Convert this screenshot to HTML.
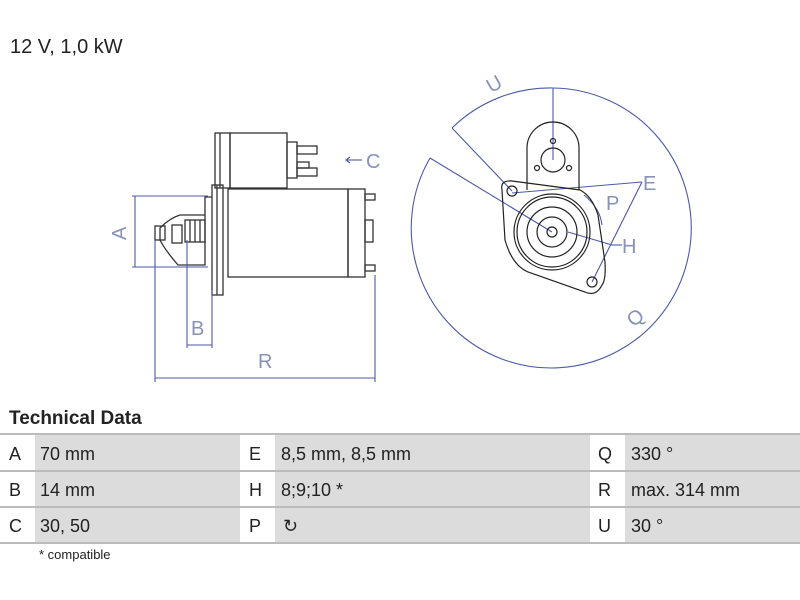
<!DOCTYPE html>
<html><head><meta charset="utf-8"><style>
body{margin:0;background:#fff;width:800px;height:600px;overflow:hidden;font-family:"Liberation Sans",sans-serif;}
.t{position:absolute;color:#222;}
</style></head><body>
<div class="t" style="left:10px;top:36px;font-size:20px;">12 V, 1,0 kW</div>
<svg width="800" height="400" style="position:absolute;left:0;top:0" xmlns="http://www.w3.org/2000/svg">
<g fill="none" stroke="#333" stroke-width="1.3">
<rect x="215" y="133" width="15" height="55"/>
<rect x="230" y="133" width="57" height="55"/>
<line x1="220" y1="133" x2="220" y2="188"/>
<rect x="287" y="142" width="10" height="36"/>
<rect x="297" y="146" width="20" height="8"/>
<rect x="297" y="162" width="12" height="6"/>
<rect x="297" y="168" width="20" height="8"/>
<rect x="228" y="189" width="120" height="88"/>
<rect x="348" y="189" width="17" height="88"/>
<rect x="365" y="194" width="10" height="6"/>
<rect x="365" y="220" width="8" height="22"/>
<rect x="365" y="265" width="10" height="6"/>
<rect x="212" y="185" width="11" height="110"/>
<line x1="217" y1="185" x2="217" y2="295"/>
<path d="M212 197 L205 197 L205 265 L178 265 Q165 250 160 240 L160 228 Q170 218 180 215 L205 215"/>
<rect x="155" y="226" width="10" height="14"/>
<rect x="172" y="225" width="10" height="18"/>
<rect x="185" y="220" width="20" height="22"/>
<line x1="190" y1="220" x2="190" y2="242"/><line x1="195" y1="220" x2="195" y2="242"/><line x1="200" y1="220" x2="200" y2="242"/>
</g>
<g fill="none" stroke="#4a5aa8" stroke-width="1.1">
<line x1="135" y1="196" x2="135" y2="267"/>
<line x1="132" y1="196" x2="208" y2="196"/>
<line x1="132" y1="267" x2="208" y2="267"/>
<line x1="187" y1="240" x2="187" y2="348"/>
<line x1="212" y1="290" x2="212" y2="348"/>
<line x1="187" y1="345" x2="212" y2="345"/>
<line x1="155" y1="240" x2="155" y2="382"/>
<line x1="375" y1="275" x2="375" y2="382"/>
<line x1="155" y1="378" x2="375" y2="378"/>
<line x1="347" y1="160" x2="362" y2="160"/>
<path d="M350 157 L346 160 L350 163"/>
<path d="M430 158 A140 140 0 1 0 553 88"/>
<path d="M452 128 A140 140 0 0 1 553 88"/>
<line x1="553" y1="88" x2="553" y2="160"/>
<line x1="452" y1="128" x2="512" y2="191"/>
<line x1="430" y1="158" x2="552" y2="232"/>
<line x1="512" y1="193" x2="642" y2="182"/>
<line x1="642" y1="182" x2="592" y2="282"/>
<line x1="568" y1="232" x2="612" y2="245"/><line x1="612" y1="245" x2="622" y2="245"/>
<path d="M584 195 Q600 208 602 225"/>
</g>
<g fill="none" stroke="#222" stroke-width="1.2">
<path d="M527 190 L527 148 A26 26 0 0 1 579 148 L579 190"/>
<circle cx="553" cy="160" r="12"/>
<circle cx="537" cy="168" r="2.5"/><circle cx="569" cy="168" r="2.5"/><circle cx="553" cy="141" r="2.5"/>
<path d="M502 190 Q500 180 512 181 L580 190 Q592 196 598 215 L605 262 Q606 280 602 285 Q596 297 585 292 L528 272 Q512 265 505 240 Z"/>
<circle cx="512" cy="191" r="5"/>
<circle cx="592" cy="282" r="5"/>
<circle cx="552" cy="232" r="38"/>
<circle cx="552" cy="232" r="35"/>
<circle cx="552" cy="232" r="25"/>
<circle cx="552" cy="232" r="15"/>
<circle cx="552" cy="232" r="5"/>
</g>
<g fill="#8892b8" font-family="Liberation Sans,sans-serif" font-size="20">
<text x="110" y="240" transform="rotate(-90 118 232)">A</text>
<text x="191" y="335">B</text>
<text x="258" y="368">R</text>
<text x="366" y="168">C</text>
<text x="486" y="90" transform="rotate(-30 495 82)">U</text>
<text x="643" y="190">E</text>
<text x="606" y="210">P</text>
<text x="622" y="253">H</text>
<text x="628" y="324" transform="rotate(-40 636 318)">Q</text>
</g>
</svg>
<div class="t" style="left:9px;top:408px;font-size:19px;font-weight:bold;">Technical Data</div>
<div style="position:absolute;left:0;top:433px;width:800px;height:2px;background:#bbb"></div>
<div style="position:absolute;left:0;top:435px;width:800px;height:110px;font-size:18px;color:#222">
<div style="position:absolute;left:35px;top:0;width:205px;height:108px;background:#dcdcdc"></div>
<div style="position:absolute;left:275px;top:0;width:315px;height:108px;background:#dcdcdc"></div>
<div style="position:absolute;left:625px;top:0;width:175px;height:108px;background:#dcdcdc"></div>
<div style="position:absolute;left:0;top:35px;width:800px;height:2px;background:#bbb"></div>
<div style="position:absolute;left:0;top:71px;width:800px;height:2px;background:#bbb"></div>
<div style="position:absolute;left:0;top:107px;width:800px;height:2px;background:#bbb"></div>
<div class="t" style="left:9px;top:9px">A</div><div class="t" style="left:40px;top:9px">70 mm</div>
<div class="t" style="left:9px;top:45px">B</div><div class="t" style="left:40px;top:45px">14 mm</div>
<div class="t" style="left:9px;top:81px">C</div><div class="t" style="left:40px;top:81px">30, 50</div>
<div class="t" style="left:249px;top:9px">E</div><div class="t" style="left:281px;top:9px">8,5 mm, 8,5 mm</div>
<div class="t" style="left:249px;top:45px">H</div><div class="t" style="left:281px;top:45px">8;9;10 *</div>
<div class="t" style="left:249px;top:81px">P</div><div class="t" style="left:283px;top:81px">↻</div>
<div class="t" style="left:598px;top:9px">Q</div><div class="t" style="left:631px;top:9px">330 °</div>
<div class="t" style="left:598px;top:45px">R</div><div class="t" style="left:631px;top:45px">max. 314 mm</div>
<div class="t" style="left:598px;top:81px">U</div><div class="t" style="left:631px;top:81px">30 °</div>
</div>
<div class="t" style="left:39px;top:547px;font-size:13px;">* compatible</div>
</body></html>
